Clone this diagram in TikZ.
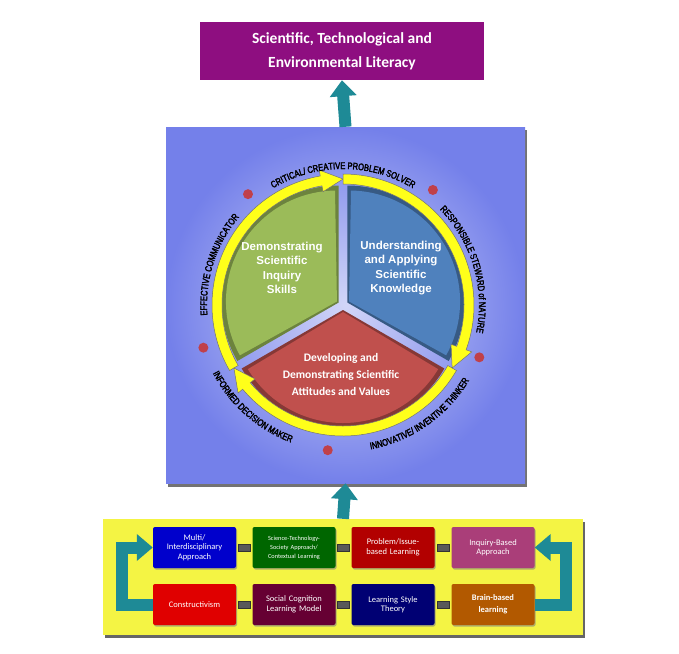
\documentclass[tikz,border=0pt]{standalone}
\usepackage{fontspec}
\setmainfont{Carlito}
\newfontfamily\condfont{Liberation Sans}[FakeStretch=0.78,FakeBold=2.5]
\newfontfamily\arialfont{Liberation Sans}
\usetikzlibrary{decorations.text,arrows.meta,shadows,calc}
\definecolor{titlec}{HTML}{8E0E80}
\definecolor{tealc}{HTML}{1E8A96}
\definecolor{bgin}{HTML}{D2D6F8}
\definecolor{bgout}{HTML}{7480EA}
\definecolor{grc}{HTML}{9BBB59}
\definecolor{blc}{HTML}{4F81BD}
\definecolor{rdc}{HTML}{C0504D}
\definecolor{yel}{HTML}{FFFF1A}
\definecolor{panelc}{HTML}{F4F444}
\definecolor{dotc}{HTML}{C0404A}
\begin{document}
\begin{tikzpicture}[x=1pt,y=1pt,
  tealarrow/.style={draw=tealc,line width=12pt,-{Triangle[width=26pt,length=16pt]}},
  bbox/.style={rounded corners=2pt,minimum width=83pt,minimum height=41pt,inner sep=1pt,
     text width=80pt,align=center,text=white,font=\fontsize{8.5}{9.5}\selectfont,
     drop shadow={shadow xshift=1pt,shadow yshift=-1.5pt,opacity=0.6}},
  link/.style={fill=black!65,draw=black!80,minimum width=12pt,minimum height=7pt,inner sep=0pt},
  ringtxt/.style={decorate,decoration={text along path,text align=center,
     text={|\condfont\fontsize{9.6}{9.6}\selectfont|#1}}},
  stxt/.style={text=white,align=center,font=\arialfont\bfseries\fontsize{11.5}{14.5}\selectfont}
  ]
\useasboundingbox (0,0) rectangle (679,-653);
\fill[white] (0,0) rectangle (679,-653);
% title
\node[fill=titlec,minimum width=284pt,minimum height=58pt,text=white,align=center,
  font=\bfseries\fontsize{15.5}{24}\selectfont] (title) at (342,-51)
  {Scientific, Technological and\\Environmental Literacy};
% square
\fill[black!55] (168,-130) rectangle (527,-487);
\node[minimum width=359pt,minimum height=356pt,inner sep=0pt,inner color=bgin,outer color=bgout] (sq) at (345.5,-305) {};
\draw[tealarrow] (sq.north) -- (title.south);
\begin{scope}[shift={(343,-305)}]
  % sectors
  \foreach \bis/\col in {150/grc,30/blc,270/rdc}{
    \fill[\col!70!black] (\bis:5) ++(\bis-60:117) arc[start angle=\bis-60,end angle=\bis+60,radius=117] -- (\bis:5) -- cycle;
    \fill[\col] (\bis:7) ++(\bis-59:111) arc[start angle=\bis-59,end angle=\bis+59,radius=111] -- (\bis:7) -- cycle;
  }
  % ring arrows
  \foreach \a in {210,90,-30}{
    \pgfmathsetmacro\b{\a-120}
    \pgfmathsetmacro\c{\a-110}
    \filldraw[fill=yel,draw=black!55,line width=0.5pt]
      (\a:121) arc[start angle=\a,end angle=\c,radius=121] -- (\c:115) -- (\b:126) -- (\c:137)
      -- (\c:131) arc[start angle=\c,end angle=\a,radius=131] -- cycle;
  }
  % dots
  \foreach \ang in {130.6,52,-21,264,197}{
    \fill[dotc] (\ang:146) circle (5);
  }
  % ring texts
  \path[ringtxt={CRITICAL/ CREATIVE PROBLEM SOLVER}] (126:136) arc[start angle=126,end angle=54,radius=136];
  \path[ringtxt={RESPONSIBLE STEWARD of NATURE}] (48:136) arc[start angle=48,end angle=-15,radius=136];
  \path[ringtxt={EFFECTIVE COMMUNICATOR}] (188:136) arc[start angle=188,end angle=136,radius=136];
  \path[ringtxt={INNOVATIVE/ INVENTIVE THINKER}] (-84:147) arc[start angle=-84,end angle=-26,radius=147];
  \path[ringtxt={INFORMED DECISION MAKER}] (203:147) arc[start angle=203,end angle=254,radius=147];
\end{scope}
\node[stxt] (g) at (282,-268) {Demonstrating\\Scientific\\Inquiry\\Skills};
\node[stxt] (b) at (401,-268) {Understanding\\and Applying\\Scientific\\Knowledge};
\node[text=white,align=center,font=\bfseries\fontsize{11.5}{17}\selectfont] (r) at (341,-375)
  {Developing and\\Demonstrating Scientific\\Attitudes and Values};
% bottom panel
\fill[black!60] (105,-522) rectangle (585,-638);
\node[fill=panelc,minimum width=480pt,minimum height=116pt,inner sep=0pt] (panel) at (343,-577) {};
\draw[tealarrow] (panel.north) -- (sq.south);
\node[bbox,fill=blue!80!black] (m1) at (194.5,-547.5) {Multi/\\Interdisciplinary\\Approach};
\node[bbox,fill=green!40!black,font=\fontsize{6.3}{9}\selectfont] (m2) at (294,-547.5) {Science-Technology-\\Society Approach/\\Contextual Learning};
\node[bbox,fill=red!70!black] (m3) at (393,-547.5) {Problem/Issue-\\based Learning};
\node[bbox,fill=magenta!65!black] (m4) at (493,-547.5) {Inquiry-Based\\Approach};
\node[bbox,fill=red!88!black] (n1) at (194.5,-604.5) {Constructivism};
\node[bbox,fill=violet!50!black!80!red] (n2) at (294,-604.5) {Social Cognition\\Learning Model};
\node[bbox,fill=blue!45!black] (n3) at (393,-604.5) {Learning Style\\Theory};
\node[bbox,fill=orange!70!black,font=\bfseries\fontsize{8.5}{12}\selectfont] (n4) at (493,-604.5) {Brain-based\\learning};
\foreach \p/\q in {m1/m2,m2/m3,m3/m4,n1/n2,n2/n3,n3/n4}{
  \node[link] (l\p) at ($(\p.east)!0.5!(\q.west)$) {};
}
\draw[tealarrow,line join=miter] (n1.west) -- ++(-31,0) |- (m1.west);
\draw[tealarrow,line join=miter] (n4.east) -- ++(31,0) |- (m4.east);
\end{tikzpicture}
\end{document}
